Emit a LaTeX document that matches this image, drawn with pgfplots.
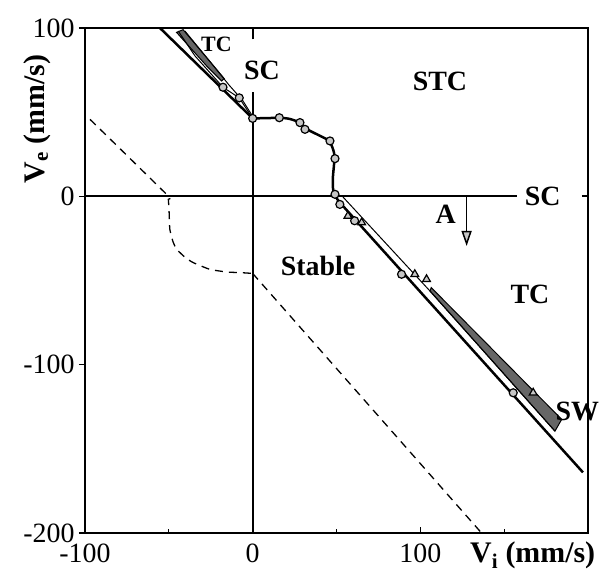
\documentclass[border=0pt]{standalone}
\usepackage{fontspec}
\setmainfont{Liberation Serif}
\usepackage{pgfplots}
\pgfplotsset{compat=1.18}
\usetikzlibrary{arrows.meta}
\begin{document}
\begin{tikzpicture}
\begin{axis}[
  at={(0,0)}, anchor=south west,
  scale only axis, width=503bp, height=505bp,
  xmin=-100, xmax=200, ymin=-200, ymax=100,
  clip=false,
  axis line style={line width=1.8pt},
  xtick={-100,0,100,200}, xticklabels={-100,0,100,},
  ytick={-200,-100,0,100}, yticklabels={-200,-100,0,100},
  minor xtick={-50,50,150},
  xtick pos=bottom, ytick pos=left,
  tick style={line width=1.3pt, black},
  major tick length=6bp, minor tick length=4bp,
  xtick align=inside, ytick align=outside,
  ticklabel style={font=\fontsize{28}{30}\selectfont},
  xticklabel style={yshift=-7bp},
  yticklabel style={xshift=-1bp},
]
% zero lines
\addplot[line width=1.8pt] coordinates {(-100,0) (157.6,0)};
\addplot[line width=1.8pt] coordinates {(196.4,0) (200,0)};
\addplot[line width=1.8pt] coordinates {(0,-200) (0,61.8)};
\addplot[line width=1.8pt] coordinates {(0,93.3) (0,100)};
% dashed boundary
\addplot[line width=1.3pt, dash pattern=on 8bp off 6bp, smooth, tension=0.3] coordinates {
 (-97,45.7) (-51.4,1.2) (-50.3,-1.8) (-49.8,-10) (-49.4,-19.6) (-47.5,-27)
 (-45.3,-31.5) (-40,-36.5) (-35.4,-39.4) (-25.5,-43.4) (-15,-45) (-7.6,-45.3) (0,-45.8)};
\addplot[line width=1.3pt, dash pattern=on 8bp off 6bp] coordinates {(0,-45.8) (136.5,-200)};
% shaded bands
\addplot[fill=black!60, draw=black, line width=1pt] coordinates {
 (-45.4,97.4) (-41.5,99) (-25,79.5) (-17,70) (-18.5,68.5) (-27.4,77.4)} -- cycle;
\addplot[fill=black!60, draw=black, line width=1pt] coordinates {
 (106.5,-54.2) (184.3,-132.5) (180.3,-139.5) (105.8,-56.3)} -- cycle;
% thin lines
\addplot[line width=1pt] coordinates {(-44.4,98.2) (-34.4,83.4) (-17.7,64.8) (-8,58.5) (0,46.3)};
\addplot[line width=1pt] coordinates {(-40.4,98.2) (-25,79.5) (-14,66) (-6,57) (0,47.5)};
\addplot[line width=1pt] coordinates {(53.5,0) (105.8,-56.3) (180.3,-139.5)};
% thick curve
\addplot[line width=2.5pt] coordinates {(-55.3,100) (0,46.3)};
\addplot[line width=2.5pt, smooth, tension=0.4] coordinates {
 (0,46.3) (10,46.5) (16,46.7) (22,46) (28.2,43.8) (31.2,40.5) (38,37) (44,34)
 (46.5,31.5) (48.5,26) (48.6,20) (47.9,12) (47.8,6) (48.3,2.5) (50,-1) (52,-3.7)};
\addplot[line width=2.5pt] coordinates {(52,-3.7) (197,-164)};
% markers
\addplot[only marks, mark=*, mark size=4bp, mark options={fill=gray!45, draw=black, line width=1.2pt}] coordinates {
 (-17.7,64.8) (-8,58.5) (0,46.3) (15.9,46.7) (28.2,43.8) (31.2,39.8) (46.1,32.9) (49.1,22.4)
 (49.1,1.2) (52,-4.8) (60.8,-14.5) (88.8,-46.3) (155.4,-116.7)};
\addplot[only marks, mark=triangle*, mark size=4.5bp, mark options={fill=gray!45, draw=black, line width=1.2pt}] coordinates {
 (56.8,-11.7) (65,-15.6) (96.7,-46.3) (103.7,-49.3) (167.3,-116.7)};
% arrow A
\draw[line width=1.5pt, -{Triangle[width=10bp,length=15bp,fill=gray!45]}] (axis cs:127.6,0) -- (axis cs:127.6,-29.5);
% labels
\node[font=\bfseries\fontsize{22}{24}\selectfont] at (axis cs:-21.6,90.3) {TC};
\node[font=\bfseries\fontsize{28}{30}\selectfont] at (axis cs:5.5,74.9) {SC};
\node[font=\bfseries\fontsize{28}{30}\selectfont] at (axis cs:111.7,68.5) {STC};
\node[font=\bfseries\fontsize{28}{30}\selectfont] at (axis cs:173,0) {SC};
\node[font=\bfseries\fontsize{28}{30}\selectfont] at (axis cs:115.2,-10.7) {A};
\node[font=\bfseries\fontsize{28}{30}\selectfont] at (axis cs:39,-41.4) {Stable};
\node[font=\bfseries\fontsize{28}{30}\selectfont] at (axis cs:165.4,-58.2) {TC};
\node[font=\bfseries\fontsize{28}{30}\selectfont] at (axis cs:193.6,-127.6) {SW};
% axis labels
\node[font=\bfseries\fontsize{30}{32}\selectfont, rotate=90] at ([xshift=-48bp]rel axis cs:0,0.82) {V\textsubscript{e} (mm/s)};
\node[font=\bfseries\fontsize{30}{32}\selectfont] at ([yshift=-22bp]rel axis cs:0.89,0) {V\textsubscript{i} (mm/s)};
\end{axis}
\pgfresetboundingbox
\path (-85bp,-44bp) rectangle (514bp,533bp);
\end{tikzpicture}
\end{document}
